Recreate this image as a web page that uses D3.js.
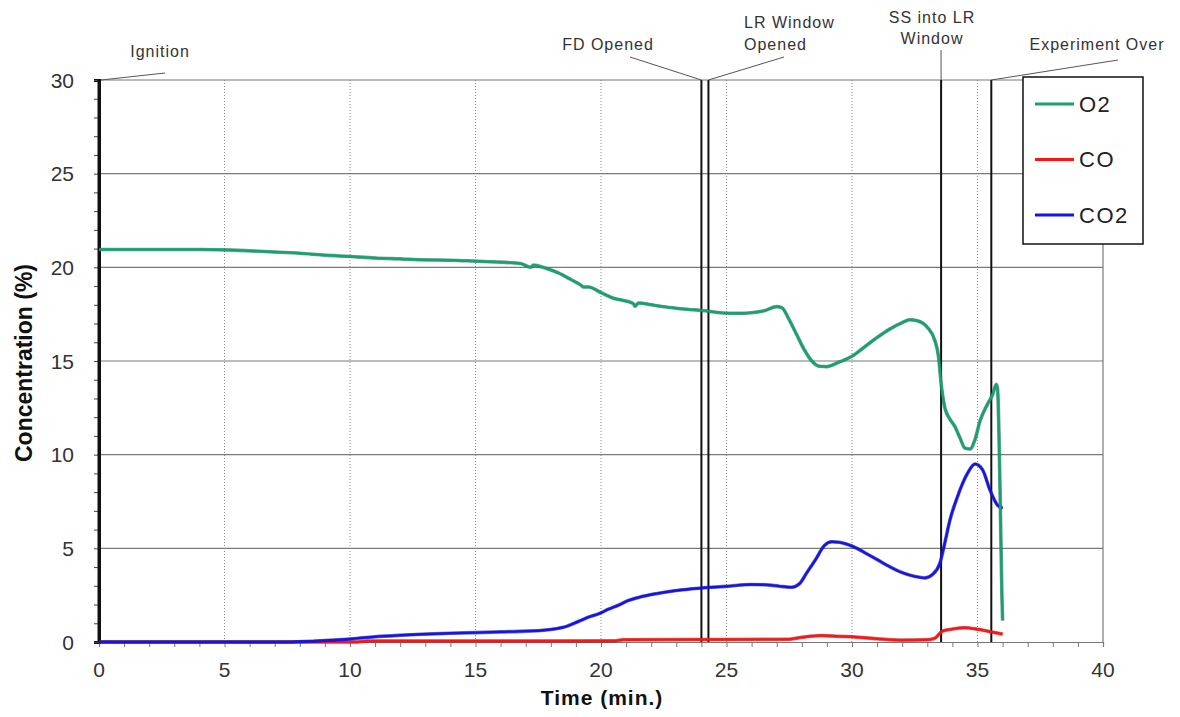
<!DOCTYPE html>
<html><head><meta charset="utf-8">
<script src="https://cdn.jsdelivr.net/npm/d3@7"></script>
<style>html,body{margin:0;padding:0;background:#fff;}svg{display:block;}</style>
</head><body>
<svg id="chart" width="1180" height="717"></svg>
<script>
// ---- data ----
const seriesNames = ["O2", "CO", "CO2"];
const o2Time = [0,2,4,5,6,7,8,9,10,11,12,13,14,15,16,16.8,17.2,17.3,17.8,18.3,18.8,19.2,19.3,19.5,20,20.5,21,21.3,21.35,21.5,22,22.5,23,23.5,24,24.5,25,25.5,26,26.5,27,27.2,27.5,27.8,28.1,28.4,28.7,29,29.5,30,30.5,31,31.5,32,32.3,32.6,33,33.3,33.45,33.55,33.7,33.9,34.1,34.3,34.5,34.7,34.9,35.1,35.4,35.6,35.75,35.8,35.9,35.97,36.0];
const o2Value = [20.95,20.95,20.95,20.93,20.88,20.82,20.75,20.65,20.58,20.5,20.45,20.4,20.38,20.33,20.28,20.2,20.0,20.12,19.95,19.7,19.35,19.05,18.95,18.95,18.65,18.35,18.2,18.05,17.92,18.1,18.0,17.9,17.82,17.75,17.7,17.62,17.55,17.55,17.58,17.68,17.9,17.85,17.2,16.4,15.6,15.0,14.72,14.7,14.95,15.25,15.75,16.25,16.7,17.05,17.2,17.15,16.8,16.1,15.2,13.8,12.5,11.9,11.5,10.9,10.35,10.3,10.8,11.8,12.7,13.2,13.75,13.5,8.0,2.6,1.15];
const coTime = [0,10.3,10.7,15,20.5,20.9,24,27,27.5,28,28.8,29.5,30,31,32,33,33.3,33.6,34,34.5,35,35.5,36];
const coValue = [0,0,0.05,0.05,0.06,0.12,0.13,0.14,0.15,0.25,0.35,0.3,0.28,0.17,0.1,0.12,0.2,0.58,0.69,0.76,0.68,0.55,0.42];
const co2Time = [0,7.5,8.5,9.2,10,10.4,11,12,13,14,15,16,17,17.7,18.2,18.6,18.9,19.2,19.5,19.9,20.3,20.7,21.1,21.5,22.2,23,24,25,26,26.6,27.1,27.6,27.9,28.2,28.55,28.9,29.2,29.5,29.8,30.2,30.6,31,31.5,32,32.5,32.9,33.2,33.5,33.7,33.9,34.2,34.6,34.9,35.2,35.5,35.8,36.0];
const co2Value = [0,0,0.04,0.09,0.16,0.21,0.28,0.36,0.42,0.47,0.5,0.54,0.58,0.63,0.71,0.82,0.98,1.15,1.33,1.5,1.75,1.97,2.22,2.38,2.58,2.75,2.88,2.97,3.07,3.05,2.98,2.92,3.1,3.7,4.4,5.15,5.35,5.32,5.22,5.0,4.7,4.4,4.02,3.7,3.5,3.42,3.6,4.2,5.3,6.5,7.75,9.0,9.5,9.2,8.1,7.3,7.15];
const eventNames = ["Ignition", "FD Opened", "LR Window Opened", "SS into LR Window", "Experiment Over"];
const eventTimes = [0, 24.0, 24.28, 33.55, 35.55];
const xTicks = [0,5,10,15,20,25,30,35,40];
const yTicks = [0,5,10,15,20,25,30];
const xTitle = "Time (min.)";
const yTitle = "Concentration (%)";

// ---- layout ----
const svg = d3.select("#chart");
const x = d3.scaleLinear().domain([0,40]).range([99,1103]);
const y = d3.scaleLinear().domain([0,30]).range([642,80]);
const colors = {"O2":"#16a074","CO":"#ff1414","CO2":"#1414e6"};
const FONT = "'Liberation Sans', Arial, sans-serif";

// vertical dotted grid
svg.append("g").selectAll("line").data(xTicks.filter(d=>d>0 && d<40)).join("line")
  .attr("x1",d=>x(d)).attr("x2",d=>x(d)).attr("y1",y(30)).attr("y2",y(0))
  .attr("stroke","#8a8a8a").attr("stroke-width",1).attr("stroke-dasharray","1,2");
// horizontal solid grid
svg.append("g").selectAll("line").data(yTicks.filter(d=>d>0)).join("line")
  .attr("x1",x(0)).attr("x2",x(40)).attr("y1",d=>y(d)).attr("y2",d=>y(d))
  .attr("stroke","#7a7a7a").attr("stroke-width",1.2);
// right border
svg.append("line").attr("x1",x(40)).attr("x2",x(40)).attr("y1",y(30)).attr("y2",y(0))
  .attr("stroke","#7a7a7a").attr("stroke-width",1.2);

// x axis
const xAxis = svg.append("g").attr("transform",`translate(0,${y(0)})`)
  .call(d3.axisBottom(x).tickValues(d3.range(0,41,1)).tickSize(5).tickFormat(""));
xAxis.select(".domain").attr("stroke","#777").attr("stroke-width",1.2);
xAxis.selectAll(".tick line").attr("stroke","#777");
svg.append("g").selectAll("text").data(xTicks).join("text")
  .attr("x",d=>x(d)).attr("y",677).attr("text-anchor","middle")
  .attr("font-family",FONT).attr("font-size",21).attr("fill","#333").text(d=>d);

// y axis
const yAxis = svg.append("g").attr("transform",`translate(${x(0)},0)`)
  .call(d3.axisLeft(y).tickValues(d3.range(0,31,1)).tickSize(5).tickFormat(""));
yAxis.select(".domain").attr("stroke","#111").attr("stroke-width",3);
yAxis.selectAll(".tick line").attr("stroke","#444");
svg.append("g").selectAll("text").data(yTicks).join("text")
  .attr("x",74).attr("y",d=>y(d)).attr("dy","0.36em").attr("text-anchor","end")
  .attr("font-family",FONT).attr("font-size",21).attr("fill","#333").text(d=>d);

// event lines
svg.append("g").selectAll("line").data(eventTimes).join("line")
  .attr("x1",d=>x(d)).attr("x2",d=>x(d)).attr("y1",y(30)).attr("y2",y(0))
  .attr("stroke","#111").attr("stroke-width",(d,i)=>i===0?3:2);

// series
const line = d3.line().x(d=>x(d[0])).y(d=>y(d[1])).curve(d3.curveMonotoneX);
const series = [
  {name:"CO", t:coTime, v:coValue},
  {name:"CO2", t:co2Time, v:co2Value},
  {name:"O2", t:o2Time, v:o2Value}
];
series.forEach(s=>{
  const pts = s.t.map((t,i)=>[t,s.v[i]]);
  svg.append("path").datum(pts).attr("d",line).attr("fill","none")
    .attr("stroke",d3.color(colors[s.name]).darker(1.2)).attr("stroke-width",3.6)
    .attr("stroke-linejoin","round").attr("stroke-opacity",0.6);
  svg.append("path").datum(pts).attr("d",line).attr("fill","none")
    .attr("stroke",colors[s.name]).attr("stroke-width",2.4).attr("stroke-linejoin","round");
});

// annotations (leader lines + labels)
const annLayout = [
  {lines:[eventNames[0]], tx:160, ty:[57], anchor:"middle", lx:165, ly:73},
  {lines:[eventNames[1]], tx:608, ty:[50], anchor:"middle", lx:630, ly:57},
  {lines:["LR Window","Opened"], tx:744, ty:[28,50], anchor:"start", lx:784, ly:57},
  {lines:["SS into LR","Window"], tx:932, ty:[23,44], anchor:"middle", lx:941, ly:50},
  {lines:[eventNames[4]], tx:1097, ty:[50], anchor:"middle", lx:1118, ly:60}
];
const ag = svg.append("g");
annLayout.forEach((a,i)=>{
  ag.append("line").attr("x1",x(eventTimes[i])+(i===0?2:0)).attr("y1",y(30))
    .attr("x2",a.lx).attr("y2",a.ly).attr("stroke","#555").attr("stroke-width",1);
  a.lines.forEach((ln,j)=>{
    ag.append("text").attr("x",a.tx).attr("y",a.ty[j]).attr("text-anchor",a.anchor)
      .attr("font-family",FONT).attr("font-size",16).attr("letter-spacing",1)
      .attr("fill","#333").text(ln);
  });
});

// legend
const lg = svg.append("g");
lg.append("rect").attr("x",1023).attr("y",77).attr("width",120).attr("height",167)
  .attr("fill","#fff").attr("stroke","#111").attr("stroke-width",1.5);
seriesNames.forEach((n,i)=>{
  const yy = 104 + i*55.5;
  lg.append("line").attr("x1",1035).attr("x2",1074).attr("y1",yy).attr("y2",yy)
    .attr("stroke",colors[n]).attr("stroke-width",3);
  lg.append("text").attr("x",1079).attr("y",yy).attr("dy","0.36em")
    .attr("font-family",FONT).attr("font-size",22).attr("letter-spacing",1.5)
    .attr("fill","#222").text(n);
});

// axis titles
svg.append("text").attr("x",602).attr("y",705).attr("text-anchor","middle")
  .attr("font-family",FONT).attr("font-weight","bold").attr("font-size",21)
  .attr("letter-spacing",1).attr("fill","#111").text(xTitle);
svg.append("text").attr("transform","translate(32,363) rotate(-90)").attr("text-anchor","middle")
  .attr("font-family",FONT).attr("font-weight","bold").attr("font-size",23)
  .attr("fill","#111").text(yTitle);
</script>
</body></html>
